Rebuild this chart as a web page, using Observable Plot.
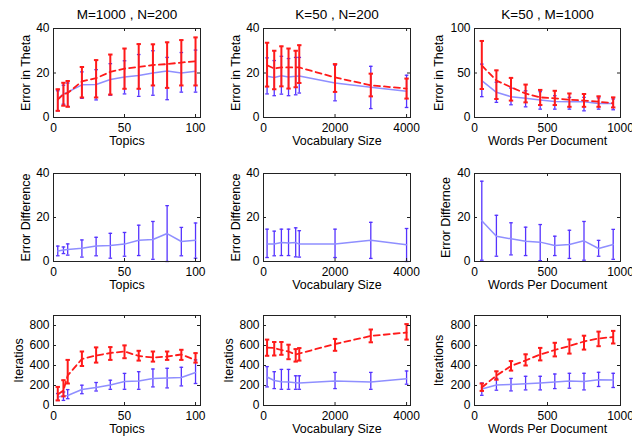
<!DOCTYPE html>
<html><head><meta charset="utf-8">
<script src="https://cdn.jsdelivr.net/npm/d3@7"></script>
<script src="https://cdn.jsdelivr.net/npm/@observablehq/plot@0.6"></script>
<style>
html,body{margin:0;padding:0;background:#fff;}
#wrap{position:relative;width:632px;height:438px;overflow:hidden;background:#fff;}
#wrap svg{position:absolute;}
</style></head><body><div id="wrap"></div>
<script>
// ---------- x values ----------
const topics = [3, 7, 10, 20, 30, 40, 50, 60, 70, 80, 90, 100];
const vocab = [100, 300, 500, 700, 900, 1000, 2000, 3000, 4000];
const words = [50, 150, 250, 350, 450, 550, 650, 750, 850, 950];

// ---------- tick labels ----------
const ticksTopics = [0, 50, 100];
const ticksVocab = [0, 2000, 4000];
const ticksWords = [0, 500, 1000];
const ticksErr40 = [0, 20, 40];
const ticksErr100 = [0, 50, 100];
const ticksIter = [0, 200, 400, 600, 800];

// ---------- titles / labels ----------
const titles = ["M=1000 , N=200", "K=50 , N=200", "K=50 , M=1000"];
const xLabels = ["Topics", "Vocabulary Size", "Words Per Document"];
const yLabels = [
  ["Error in Theta", "Error in Theta", "Error in Theta"],
  ["Error Difference", "Error Difference", "Error Differnce"],
  ["Iteratios", "Iteratios", "Iterations"]
];

// ---------- Row 1: Error in Theta ----------
const thTopRed = [8, 10.5, 11, 16.2, 17.7, 20.5, 22, 22.7, 23.6, 24, 24.7, 25.3];
const thTopRedLo = [3, 5.3, 4.8, 9, 9, 10.3, 12.9, 12.9, 14.4, 13.3, 14.4, 14.4];
const thTopRedHi = [12.7, 15.6, 16.4, 22.7, 25.8, 28.3, 31, 33, 32.9, 33.8, 34.8, 36];
const thTopBlue = [8.3, 10.5, 11.4, 14.7, 14.8, 17.1, 18.2, 18.9, 20, 20.9, 20, 20.8];
const thTopBlueLo = [3, 6, 5, 8.6, 7.9, 10, 10.6, 9.5, 10, 8, 11.4, 11.4];
const thTopBlueHi = [12, 14.5, 15.5, 20.5, 21.5, 24.2, 25.5, 28.3, 30, 27, 29.2, 30.3];

const thVocRed = [23.5, 22, 22.5, 22.5, 22.5, 22.5, 18, 14.5, 13];
const thVocRedLo = [13.9, 12.7, 14, 13, 13.6, 15.5, 11.5, 9.5, 8.5];
const thVocRedHi = [33.6, 30, 32, 31, 30, 32.5, 24, 19.7, 17.5];
const thVocBlue = [18.5, 18, 18.8, 18.2, 18.5, 18.7, 15.5, 13.6, 11.8];
const thVocBlueLo = [10.6, 9.8, 10.5, 9.8, 10.2, 11, 7.5, 4, 4.5];
const thVocBlueHi = [26.8, 25.6, 27.5, 26.5, 27, 27, 23.5, 23, 19];

const thWrdRed = [58.5, 41.5, 34, 27, 22.6, 21.5, 20, 19, 17.7, 16];
const thWrdRedLo = [32, 20.8, 19, 17, 14, 14, 12, 12, 12, 11.3];
const thWrdRedHi = [86, 53, 44.5, 37, 31, 30, 27, 26.4, 23.8, 22.6];
const thWrdBlue = [41.5, 28.3, 23.4, 21.5, 19.6, 18, 17.7, 17.7, 15.8, 15.8];
const thWrdBlueLo = [23.4, 17, 14.3, 12, 9.4, 9.4, 9.4, 7.5, 9.4, 8.7];
const thWrdBlueHi = [60, 39.6, 33, 30, 29, 24.5, 22.6, 22.6, 22, 20.8];

// ---------- Row 2: Error Difference ----------
const dfTop = [4.8, 5.2, 5.5, 6, 7, 7.3, 7.9, 9.7, 10, 12.7, 9.1, 9.7];
const dfTopLo = [2.6, 3.6, 2.9, 2, 2.6, 1.5, 2.4, 2.7, 1, 0, 2.6, 1.5];
const dfTopHi = [7, 6.6, 8, 9.8, 11, 12.8, 13.2, 16.5, 18.2, 25.4, 15.5, 17.5];

const dfVoc = [8, 8, 8.6, 8.4, 8.6, 7.9, 8, 9.7, 7.6];
const dfVocLo = [1.8, 2.6, 2.7, 2.7, 2.1, 2, 1.8, 1.4, 0];
const dfVocHi = [14.7, 13.8, 14.7, 14.7, 15.3, 14, 14.7, 17.8, 15];

const dfWrd = [18.5, 11.5, 10.3, 9.2, 8.8, 7.3, 7.7, 9.4, 5.9, 7.7];
const dfWrdLo = [0.6, 2.4, 3, 2.7, 0.4, 2.7, 1.4, 0.6, 2.4, 1];
const dfWrdHi = [36.5, 21, 17.6, 15.6, 16.8, 11.5, 14.2, 18.2, 9.6, 14.6];

// ---------- Row 3: Iterations ----------
const itTopRed = [110, 150, 300, 465, 500, 525, 540, 495, 480, 490, 510, 455];
const itTopRedLo = [51, 91, 220, 395, 429, 456, 473, 449, 439, 456, 456, 429];
const itTopRedHi = [186, 253, 456, 540, 581, 584, 601, 547, 540, 540, 557, 524];
const itTopBlue = [85, 95, 100, 160, 180, 205, 240, 245, 270, 275, 280, 330];
const itTopBlueLo = [50, 51, 68, 118, 145, 162, 162, 162, 186, 176, 196, 220];
const itTopBlueHi = [120, 135, 159, 203, 230, 253, 321, 338, 365, 372, 382, 456];

const itVocRed = [578, 575, 555, 540, 510, 520, 615, 695, 730];
const itVocRedLo = [497, 500, 507, 463, 439, 449, 547, 632, 659];
const itVocRedHi = [659, 635, 635, 608, 564, 574, 666, 760, 814];
const itVocBlue = [285, 250, 237, 235, 228, 225, 245, 235, 268];
const itVocBlueLo = [186, 169, 162, 162, 162, 162, 169, 162, 213];
const itVocBlueHi = [389, 338, 361, 361, 297, 297, 331, 331, 345];

const itWrdRed = [180, 300, 395, 450, 510, 555, 595, 640, 670, 685];
const itWrdRedLo = [146, 258, 349, 400, 451, 491, 519, 559, 593, 620];
const itWrdRedHi = [220, 342, 444, 512, 576, 627, 661, 698, 739, 746];
const itWrdBlue = [165, 205, 210, 218, 225, 235, 245, 240, 258, 255];
const itWrdBlueLo = [102, 153, 146, 156, 156, 169, 173, 156, 190, 180];
const itWrdBlueHi = [224, 271, 271, 292, 292, 315, 322, 322, 332, 322];

// ---------- styles ----------
const RED = {line: "#ff1a1a", bar: "#ff1a1a", lw: 1.8, bw: 2, dash: "6,4", cap: 2.2};
const BLUE = {line: "#8f8fff", bar: "#5533ff", lw: 1.5, bw: 1.3, dash: null, cap: 1.8};
const FONT = "'Liberation Sans', Arial, Helvetica, sans-serif";

const capSymbol = (hw) => ({draw(ctx) { ctx.moveTo(-hw, 0); ctx.lineTo(hw, 0); }});

const colX = [[53, 200], [263, 410], [474, 620]];
const rowY = [[28, 117], [173, 261], [315, 405]];
const xDomains = [[0, 103.5], [0, 4110], [0, 1000]];
const xTickSets = [ticksTopics, ticksVocab, ticksWords];
const xVals = [topics, vocab, words];
const yLabelDx = [[-28, -28, -36], [-28, -28, -29], [-35, -35, -36]];

const series = [
  [
    [{s: BLUE, m: thTopBlue, lo: thTopBlueLo, hi: thTopBlueHi}, {s: RED, m: thTopRed, lo: thTopRedLo, hi: thTopRedHi}],
    [{s: BLUE, m: thVocBlue, lo: thVocBlueLo, hi: thVocBlueHi}, {s: RED, m: thVocRed, lo: thVocRedLo, hi: thVocRedHi}],
    [{s: BLUE, m: thWrdBlue, lo: thWrdBlueLo, hi: thWrdBlueHi}, {s: RED, m: thWrdRed, lo: thWrdRedLo, hi: thWrdRedHi}]
  ],
  [
    [{s: BLUE, m: dfTop, lo: dfTopLo, hi: dfTopHi}],
    [{s: BLUE, m: dfVoc, lo: dfVocLo, hi: dfVocHi}],
    [{s: BLUE, m: dfWrd, lo: dfWrdLo, hi: dfWrdHi}]
  ],
  [
    [{s: BLUE, m: itTopBlue, lo: itTopBlueLo, hi: itTopBlueHi}, {s: RED, m: itTopRed, lo: itTopRedLo, hi: itTopRedHi}],
    [{s: BLUE, m: itVocBlue, lo: itVocBlueLo, hi: itVocBlueHi}, {s: RED, m: itVocRed, lo: itVocRedLo, hi: itVocRedHi}],
    [{s: BLUE, m: itWrdBlue, lo: itWrdBlueLo, hi: itWrdBlueHi}, {s: RED, m: itWrdRed, lo: itWrdRedLo, hi: itWrdRedHi}]
  ]
];
const yDomains = [[[0, 40], [0, 40], [0, 100]], [[0, 40], [0, 40], [0, 40]], [[0, 900], [0, 900], [0, 900]]];
const yTickSets = [[ticksErr40, ticksErr40, ticksErr100], [ticksErr40, ticksErr40, ticksErr40], [ticksIter, ticksIter, ticksIter]];

const wrap = document.getElementById("wrap");
const mL = 56, mR = 16, mT = 28, mB = 36;
const fmt = d3.format("d");

for (let r = 0; r < 3; r++) {
  for (let c = 0; c < 3; c++) {
    const [x0, x1] = colX[c], [y0, y1] = rowY[r];
    const w = x1 - x0, h = y1 - y0;
    const xt = xTickSets[c], yt = yTickSets[r][c];
    const marks = [];
    for (const sr of series[r][c]) {
      const rows = xVals[c].map((x, i) => ({x, m: sr.m[i], lo: sr.lo[i], hi: sr.hi[i]}));
      const st = sr.s;
      marks.push(Plot.ruleX(rows, {x: "x", y1: "lo", y2: "hi", stroke: st.bar, strokeWidth: st.bw}));
      marks.push(Plot.dot(rows, {x: "x", y: "lo", symbol: capSymbol(st.cap), fill: "none", stroke: st.bar, strokeWidth: st.bw, r: 2}));
      marks.push(Plot.dot(rows, {x: "x", y: "hi", symbol: capSymbol(st.cap), fill: "none", stroke: st.bar, strokeWidth: st.bw, r: 2}));
      marks.push(Plot.line(rows, {x: "x", y: "m", stroke: st.line, strokeWidth: st.lw, strokeDasharray: st.dash, curve: "linear"}));
    }
    // inward MATLAB-style ticks on all four sides
    marks.push(Plot.tickX(xt, {x: d => d, insetTop: h - 3, stroke: "#222", strokeWidth: 1}));
    marks.push(Plot.tickX(xt, {x: d => d, insetBottom: h - 3, stroke: "#222", strokeWidth: 1}));
    marks.push(Plot.tickY(yt, {y: d => d, insetRight: w - 3, stroke: "#222", strokeWidth: 1}));
    marks.push(Plot.tickY(yt, {y: d => d, insetLeft: w - 3, stroke: "#222", strokeWidth: 1}));
    marks.push(Plot.frame({stroke: "#222", strokeWidth: 1}));
    marks.push(Plot.text([xLabels[c]], {text: d => d, frameAnchor: "bottom", textAnchor: "middle", lineAnchor: "middle", dy: 23.5, fontSize: 12.5, fill: "#000"}));
    marks.push(Plot.text([yLabels[r][c]], {text: d => d, frameAnchor: "left", textAnchor: "middle", lineAnchor: "middle", rotate: -90, dx: yLabelDx[r][c], fontSize: 12.5, fill: "#000"}));
    if (r === 0) marks.push(Plot.text([titles[c]], {text: d => d, frameAnchor: "top", textAnchor: "middle", lineAnchor: "middle", dy: -14, fontSize: 13.5, fill: "#000"}));

    const svg = Plot.plot({
      width: mL + w + mR,
      height: mT + h + mB,
      marginLeft: mL, marginRight: mR, marginTop: mT, marginBottom: mB,
      style: {fontFamily: FONT, fontSize: "12px", color: "#000", background: "transparent", overflow: "visible"},
      x: {domain: xDomains[c], ticks: xt, tickSize: 0, tickPadding: 6, label: null, tickFormat: fmt},
      y: {domain: yDomains[r][c], ticks: yt, tickSize: 0, tickPadding: 4, label: null, tickFormat: fmt},
      marks
    });
    svg.style.left = (x0 - mL) + "px";
    svg.style.top = (y0 - mT) + "px";
    wrap.appendChild(svg);
  }
}
</script>
</body></html>
